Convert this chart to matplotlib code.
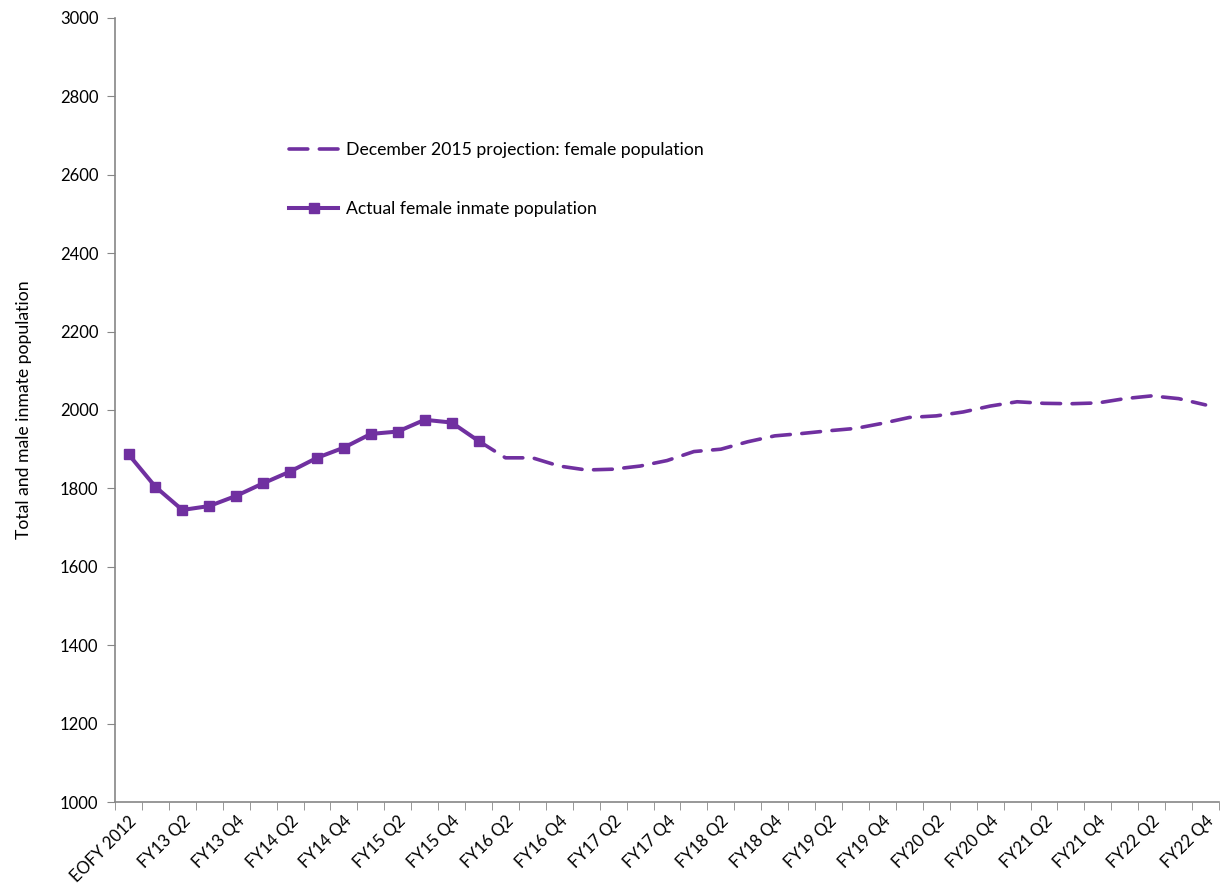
import numpy as np
import matplotlib.pyplot as plt

plt.rcParams['font.family'] = ['Lato', 'DejaVu Sans']

# quarter labels: EOFY 2012 then FY13 Q1 .. FY22 Q4
quarters = ['EOFY 2012'] + ['FY%d Q%d' % (y, q) for y in range(13, 23) for q in range(1, 5)]

actual = [1887, 1804, 1745, 1755, 1781, 1813, 1843, 1878, 1904, 1939,
          1945, 1975, 1968, 1921]

# projection starts at FY16 Q1 (index 13)
proj_start = 13
projection = [1921, 1878, 1878, 1857, 1847, 1849, 1857, 1871, 1894, 1900,
              1919, 1934, 1940, 1947, 1953, 1966, 1981, 1985, 1995, 2010,
              2021, 2017, 2016, 2018, 2029, 2036, 2029, 2013]

purple = '#7030A0'
axis_grey = '#868686'

fig = plt.figure(figsize=(12.2, 8.86), dpi=100)
ax = fig.add_axes([0.0943, 0.0948, 0.9049, 0.8849])

x_act = np.arange(len(actual))
x_proj = np.arange(proj_start, proj_start + len(projection))

ax.plot(x_proj, projection, color=purple, lw=2.6, dashes=(5.2, 3.2),
        dash_capstyle='round', label='December 2015 projection: female population', zorder=2)
ax.plot(x_act, actual, color=purple, lw=2.9, marker='s', ms=7.5,
        label='Actual female inmate population', zorder=3)

ax.set_xlim(-0.5, len(quarters) - 0.5)
ax.set_ylim(1000, 3000)
ax.set_yticks(np.arange(1000, 3001, 200))

# labels on every other quarter, tick marks between categories
label_pos = np.arange(0, len(quarters), 2)
ax.set_xticks(label_pos)
ax.set_xticklabels([quarters[i] for i in label_pos], rotation=45, ha='right',
                   rotation_mode='anchor', fontsize=12)
ax.set_xticks(np.arange(-0.5, len(quarters)), minor=True)
ax.tick_params(axis='x', which='major', length=0, pad=8)
ax.tick_params(axis='x', which='minor', length=6, color=axis_grey, direction='out')
ax.tick_params(axis='y', length=6, color=axis_grey, labelsize=12, pad=6)

for side in ['top', 'right']:
    ax.spines[side].set_visible(False)
for side in ['left', 'bottom']:
    ax.spines[side].set_color(axis_grey)
    ax.spines[side].set_linewidth(1.2)

ax.set_ylabel('Total and male inmate population', fontsize=12.7, labelpad=20)

ax.legend(loc='upper left', bbox_to_anchor=(0.1435, 0.862), frameon=False,
          fontsize=12.7, labelspacing=2.45, handlelength=2.75, handletextpad=0.45)

fig.savefig('out.png', dpi=100)
